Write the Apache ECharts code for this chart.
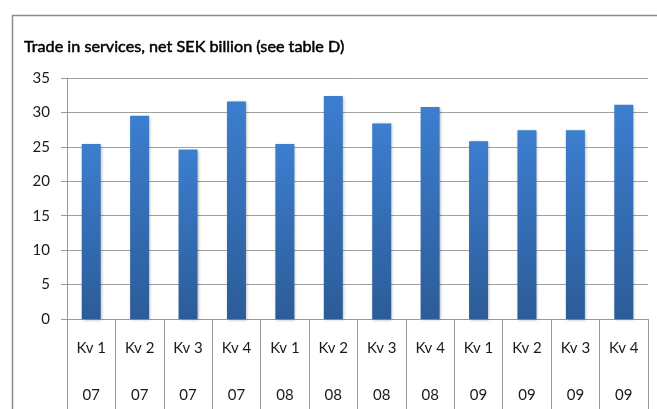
<!DOCTYPE html>
<html><head><meta charset="utf-8">
<script src="https://cdn.jsdelivr.net/npm/echarts@6/dist/echarts.min.js"></script>
<style>html,body{margin:0;padding:0;background:#fff}#c{width:657px;height:409px}</style>
</head><body><div id="c"></div>
<script>
const quarters = ['Kv 1','Kv 2','Kv 3','Kv 4','Kv 1','Kv 2','Kv 3','Kv 4','Kv 1','Kv 2','Kv 3','Kv 4'];
const years = ['07','07','07','07','08','08','08','08','09','09','09','09'];
const values = [25.4, 29.5, 24.6, 31.6, 25.4, 32.4, 28.4, 30.8, 25.8, 27.4, 27.4, 31.1];
const yTicks = [0, 5, 10, 15, 20, 25, 30, 35];
const titleText = 'Trade in services, net SEK billion (see table D)';

const categories = quarters.map((q, i) => q + '\n' + years[i]);
const chart = echarts.init(document.getElementById('c'), null, {renderer: 'canvas'});
const font = 'Lato, "Open Sans", sans-serif';
chart.setOption({
  animation: false,
  backgroundColor: '#fff',
  graphic: [{
    type: 'rect', left: 10, top: 13, shape: {width: 700, height: 450},
    style: {fill: 'none', stroke: '#8c8c8c', lineWidth: 1.5}, silent: true
  }],
  title: {
    text: titleText, left: 19, top: 34,
    textStyle: {fontFamily: font, fontSize: 16.2, fontWeight: 'normal', color: '#000',
      textBorderColor: '#000', textBorderWidth: 0.5}
  },
  grid: {left: 67, right: 9, top: 78, bottom: 90, containLabel: false, outerBoundsMode: 'none'},
  xAxis: {
    type: 'category', data: categories, boundaryGap: true,
    axisLine: {show: true, lineStyle: {color: '#999', width: 1}},
    axisTick: {show: true, interval: 0, length: 95, lineStyle: {color: '#999', width: 1}},
    axisLabel: {interval: 0, margin: 6, lineHeight: 47, fontFamily: font, fontSize: 15, color: '#1a1a1a'}
  },
  yAxis: {
    type: 'value', min: yTicks[0], max: yTicks[yTicks.length - 1], interval: 5,
    axisLine: {show: true, lineStyle: {color: '#999', width: 1}},
    axisTick: {show: true, length: 6, lineStyle: {color: '#999'}},
    axisLabel: {margin: 17, fontFamily: font, fontSize: 15, color: '#1a1a1a'},
    splitLine: {show: true, lineStyle: {color: '#a0a0a0', width: 1}}
  },
  series: [{
    type: 'bar', data: values, barWidth: 19,
    itemStyle: {
      color: new echarts.graphic.LinearGradient(0, 0, 0, 1, [
        {offset: 0, color: '#3c7ecf'}, {offset: 1, color: '#2c5c98'}
      ]),
      shadowColor: 'rgba(0,0,0,0.3)', shadowBlur: 3, shadowOffsetX: 1, shadowOffsetY: 1
    }
  }]
});
</script></body></html>
